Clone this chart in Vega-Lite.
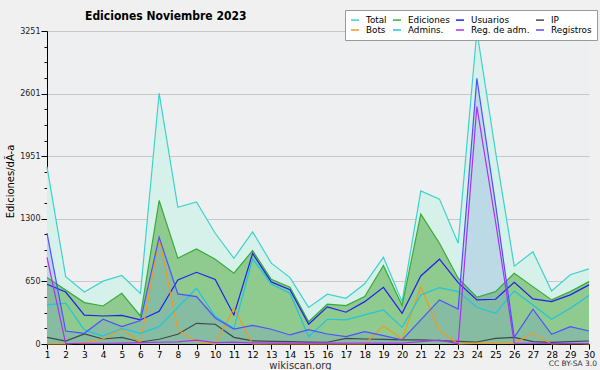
{
"$schema": "https://vega.github.io/schema/vega-lite/v6.json",
"width": 542, "height": 313,
"autosize": {"type": "none"},
"padding": {"left": 47, "top": 31, "right": 11, "bottom": 26},
"background": "#f0f0f0",
"config": {"view": {"fill": "#edeff1", "stroke": null}, "font": "DejaVu Sans"},
"title": {"text": "Ediciones  Noviembre 2023", "anchor": "start", "frame": "group", "dx": 38, "offset": 10, "dy": 32, "baseline": "alphabetic", "fontSize": 12, "fontWeight": "bold", "font": "DejaVu Sans Condensed, DejaVu Sans", "color": "#000"},
"data": {"values": [
{"d":1,"s":"Total","v":1840},{"d":1,"s":"Ediciones","v":690},{"d":1,"s":"Usuarios","v":621},{"d":1,"s":"IP","v":69},{"d":1,"s":"Bots","v":0},{"d":1,"s":"Admins.","v":406},{"d":1,"s":"Reg. de adm.","v":900},{"d":1,"s":"Registros","v":1151},
{"d":2,"s":"Total","v":700},{"d":2,"s":"Ediciones","v":562},{"d":2,"s":"Usuarios","v":540},{"d":2,"s":"IP","v":30},{"d":2,"s":"Bots","v":0},{"d":2,"s":"Admins.","v":423},{"d":2,"s":"Reg. de adm.","v":5},{"d":2,"s":"Registros","v":135},
{"d":3,"s":"Total","v":540},{"d":3,"s":"Ediciones","v":430},{"d":3,"s":"Usuarios","v":300},{"d":3,"s":"IP","v":104},{"d":3,"s":"Bots","v":14},{"d":3,"s":"Admins.","v":146},{"d":3,"s":"Reg. de adm.","v":8},{"d":3,"s":"Registros","v":111},
{"d":4,"s":"Total","v":653},{"d":4,"s":"Ediciones","v":395},{"d":4,"s":"Usuarios","v":291},{"d":4,"s":"IP","v":52},{"d":4,"s":"Bots","v":52},{"d":4,"s":"Admins.","v":83},{"d":4,"s":"Reg. de adm.","v":8},{"d":4,"s":"Registros","v":257},
{"d":5,"s":"Total","v":712},{"d":5,"s":"Ediciones","v":527},{"d":5,"s":"Usuarios","v":298},{"d":5,"s":"IP","v":69},{"d":5,"s":"Bots","v":156},{"d":5,"s":"Admins.","v":163},{"d":5,"s":"Reg. de adm.","v":10},{"d":5,"s":"Registros","v":180},
{"d":6,"s":"Total","v":525},{"d":6,"s":"Ediciones","v":291},{"d":6,"s":"Usuarios","v":250},{"d":6,"s":"IP","v":21},{"d":6,"s":"Bots","v":14},{"d":6,"s":"Admins.","v":111},{"d":6,"s":"Reg. de adm.","v":15},{"d":6,"s":"Registros","v":243},
{"d":7,"s":"Total","v":2605},{"d":7,"s":"Ediciones","v":1490},{"d":7,"s":"Usuarios","v":340},{"d":7,"s":"IP","v":49},{"d":7,"s":"Bots","v":1100},{"d":7,"s":"Admins.","v":180},{"d":7,"s":"Reg. de adm.","v":18},{"d":7,"s":"Registros","v":1110},
{"d":8,"s":"Total","v":1420},{"d":8,"s":"Ediciones","v":891},{"d":8,"s":"Usuarios","v":666},{"d":8,"s":"IP","v":101},{"d":8,"s":"Bots","v":146},{"d":8,"s":"Admins.","v":382},{"d":8,"s":"Reg. de adm.","v":22},{"d":8,"s":"Registros","v":520},
{"d":9,"s":"Total","v":1475},{"d":9,"s":"Ediciones","v":988},{"d":9,"s":"Usuarios","v":745},{"d":9,"s":"IP","v":215},{"d":9,"s":"Bots","v":24},{"d":9,"s":"Admins.","v":579},{"d":9,"s":"Reg. de adm.","v":40},{"d":9,"s":"Registros","v":492},
{"d":10,"s":"Total","v":1150},{"d":10,"s":"Ediciones","v":880},{"d":10,"s":"Usuarios","v":670},{"d":10,"s":"IP","v":205},{"d":10,"s":"Bots","v":0},{"d":10,"s":"Admins.","v":288},{"d":10,"s":"Reg. de adm.","v":15},{"d":10,"s":"Registros","v":270},
{"d":11,"s":"Total","v":890},{"d":11,"s":"Ediciones","v":735},{"d":11,"s":"Usuarios","v":302},{"d":11,"s":"IP","v":69},{"d":11,"s":"Bots","v":371},{"d":11,"s":"Admins.","v":160},{"d":11,"s":"Reg. de adm.","v":20},{"d":11,"s":"Registros","v":155},
{"d":12,"s":"Total","v":1165},{"d":12,"s":"Ediciones","v":970},{"d":12,"s":"Usuarios","v":940},{"d":12,"s":"IP","v":33},{"d":12,"s":"Bots","v":0},{"d":12,"s":"Admins.","v":884},{"d":12,"s":"Reg. de adm.","v":12},{"d":12,"s":"Registros","v":194},
{"d":13,"s":"Total","v":840},{"d":13,"s":"Ediciones","v":673},{"d":13,"s":"Usuarios","v":645},{"d":13,"s":"IP","v":28},{"d":13,"s":"Bots","v":0},{"d":13,"s":"Admins.","v":624},{"d":13,"s":"Reg. de adm.","v":10},{"d":13,"s":"Registros","v":153},
{"d":14,"s":"Total","v":690},{"d":14,"s":"Ediciones","v":590},{"d":14,"s":"Usuarios","v":565},{"d":14,"s":"IP","v":24},{"d":14,"s":"Bots","v":0},{"d":14,"s":"Admins.","v":527},{"d":14,"s":"Reg. de adm.","v":10},{"d":14,"s":"Registros","v":94},
{"d":15,"s":"Total","v":380},{"d":15,"s":"Ediciones","v":232},{"d":15,"s":"Usuarios","v":205},{"d":15,"s":"IP","v":20},{"d":15,"s":"Bots","v":0},{"d":15,"s":"Admins.","v":76},{"d":15,"s":"Reg. de adm.","v":10},{"d":15,"s":"Registros","v":150},
{"d":16,"s":"Total","v":517},{"d":16,"s":"Ediciones","v":413},{"d":16,"s":"Usuarios","v":385},{"d":16,"s":"IP","v":18},{"d":16,"s":"Bots","v":0},{"d":16,"s":"Admins.","v":257},{"d":16,"s":"Reg. de adm.","v":10},{"d":16,"s":"Registros","v":104},
{"d":17,"s":"Total","v":475},{"d":17,"s":"Ediciones","v":399},{"d":17,"s":"Usuarios","v":330},{"d":17,"s":"IP","v":59},{"d":17,"s":"Bots","v":0},{"d":17,"s":"Admins.","v":250},{"d":17,"s":"Reg. de adm.","v":10},{"d":17,"s":"Registros","v":76},
{"d":18,"s":"Total","v":625},{"d":18,"s":"Ediciones","v":492},{"d":18,"s":"Usuarios","v":440},{"d":18,"s":"IP","v":52},{"d":18,"s":"Bots","v":0},{"d":18,"s":"Admins.","v":302},{"d":18,"s":"Reg. de adm.","v":10},{"d":18,"s":"Registros","v":128},
{"d":19,"s":"Total","v":900},{"d":19,"s":"Ediciones","v":815},{"d":19,"s":"Usuarios","v":589},{"d":19,"s":"IP","v":49},{"d":19,"s":"Bots","v":190},{"d":19,"s":"Admins.","v":354},{"d":19,"s":"Reg. de adm.","v":10},{"d":19,"s":"Registros","v":87},
{"d":20,"s":"Total","v":440},{"d":20,"s":"Ediciones","v":399},{"d":20,"s":"Usuarios","v":319},{"d":20,"s":"IP","v":42},{"d":20,"s":"Bots","v":50},{"d":20,"s":"Admins.","v":173},{"d":20,"s":"Reg. de adm.","v":10},{"d":20,"s":"Registros","v":42},
{"d":21,"s":"Total","v":1590},{"d":21,"s":"Ediciones","v":1349},{"d":21,"s":"Usuarios","v":707},{"d":21,"s":"IP","v":42},{"d":21,"s":"Bots","v":595},{"d":21,"s":"Admins.","v":510},{"d":21,"s":"Reg. de adm.","v":24},{"d":21,"s":"Registros","v":250},
{"d":22,"s":"Total","v":1505},{"d":22,"s":"Ediciones","v":1047},{"d":22,"s":"Usuarios","v":881},{"d":22,"s":"IP","v":35},{"d":22,"s":"Bots","v":137},{"d":22,"s":"Admins.","v":586},{"d":22,"s":"Reg. de adm.","v":40},{"d":22,"s":"Registros","v":458},
{"d":23,"s":"Total","v":1047},{"d":23,"s":"Ediciones","v":683},{"d":23,"s":"Usuarios","v":638},{"d":23,"s":"IP","v":28},{"d":23,"s":"Bots","v":0},{"d":23,"s":"Admins.","v":544},{"d":23,"s":"Reg. de adm.","v":3},{"d":23,"s":"Registros","v":364},
{"d":24,"s":"Total","v":3251},{"d":24,"s":"Ediciones","v":486},{"d":24,"s":"Usuarios","v":458},{"d":24,"s":"IP","v":21},{"d":24,"s":"Bots","v":7},{"d":24,"s":"Admins.","v":382},{"d":24,"s":"Reg. de adm.","v":2466},{"d":24,"s":"Registros","v":2760},
{"d":25,"s":"Total","v":1995},{"d":25,"s":"Ediciones","v":544},{"d":25,"s":"Usuarios","v":465},{"d":25,"s":"IP","v":59},{"d":25,"s":"Bots","v":10},{"d":25,"s":"Admins.","v":319},{"d":25,"s":"Reg. de adm.","v":1270},{"d":25,"s":"Registros","v":1450},
{"d":26,"s":"Total","v":808},{"d":26,"s":"Ediciones","v":735},{"d":26,"s":"Usuarios","v":641},{"d":26,"s":"IP","v":69},{"d":26,"s":"Bots","v":10},{"d":26,"s":"Admins.","v":551},{"d":26,"s":"Reg. de adm.","v":10},{"d":26,"s":"Registros","v":69},
{"d":27,"s":"Total","v":958},{"d":27,"s":"Ediciones","v":596},{"d":27,"s":"Usuarios","v":468},{"d":27,"s":"IP","v":24},{"d":27,"s":"Bots","v":111},{"d":27,"s":"Admins.","v":406},{"d":27,"s":"Reg. de adm.","v":8},{"d":27,"s":"Registros","v":361},
{"d":28,"s":"Total","v":550},{"d":28,"s":"Ediciones","v":458},{"d":28,"s":"Usuarios","v":440},{"d":28,"s":"IP","v":17},{"d":28,"s":"Bots","v":0},{"d":28,"s":"Admins.","v":257},{"d":28,"s":"Reg. de adm.","v":5},{"d":28,"s":"Registros","v":101},
{"d":29,"s":"Total","v":720},{"d":29,"s":"Ediciones","v":544},{"d":29,"s":"Usuarios","v":510},{"d":29,"s":"IP","v":24},{"d":29,"s":"Bots","v":5},{"d":29,"s":"Admins.","v":371},{"d":29,"s":"Reg. de adm.","v":5},{"d":29,"s":"Registros","v":180},
{"d":30,"s":"Total","v":780},{"d":30,"s":"Ediciones","v":648},{"d":30,"s":"Usuarios","v":614},{"d":30,"s":"IP","v":31},{"d":30,"s":"Bots","v":0},{"d":30,"s":"Admins.","v":503},{"d":30,"s":"Reg. de adm.","v":5},{"d":30,"s":"Registros","v":135}
]},
"encoding": {
  "x": {"field": "d", "type": "quantitative", "scale": {"domain": [1, 30], "nice": false, "zero": false},
    "axis": {"values": [1,2,3,4,5,6,7,8,9,10,11,12,13,14,15,16,17,18,19,20,21,22,23,24,25,26,27,28,29,30], "format": "d", "title": "wikiscan.org", "grid": false, "tickSize": 5, "tickColor": "#000", "domainColor": "#000", "labelFontSize": 9, "labelPadding": 1, "labelColor": "#000", "labelFlush": false, "labelOverlap": false, "titleFontSize": 10, "titleFontWeight": "normal", "titleX": 253, "titleY": 24, "titleBaseline": "alphabetic", "titleColor": "#333"}},
  "y": {"field": "v", "type": "quantitative", "scale": {"domain": [0, 3251], "nice": false},
    "axis": {"values": [0,162.55,325.1,487.65,650.2,812.75,975.3,1137.85,1300.4,1462.95,1625.5,1788.05,1950.6,2113.15,2275.7,2438.25,2600.8,2763.35,2925.9,3088.45,3251],
      "labelExpr": "abs(datum.value/650.2 - round(datum.value/650.2)) < 0.01 ? '' + round(datum.value) : ''",
      "title": "Ediciones/dÃ-a", "grid": true, "gridColor": "#c8c8c8",
      "gridOpacity": {"condition": {"test": "abs(datum.value/650.2 - round(datum.value/650.2)) < 0.01 && datum.value > 0", "value": 1}, "value": 0},
      "tickSize": {"condition": {"test": "abs(datum.value/650.2 - round(datum.value/650.2)) < 0.01", "value": 6}, "value": 3},
      "tickColor": "#000", "domainColor": "#000", "labelFontSize": 8, "labelPadding": 1, "labelColor": "#222", "labelOverlap": false, "labelBound": false,
      "titleFontSize": 10, "titleFontWeight": "normal", "titleX": -37, "titleY": 150, "titleAngle": -90, "titleBaseline": "middle", "titleAlign": "center", "titleColor": "#000"}}
},
"layer": [
  {"transform": [{"filter": "datum.s == 'Total'"}], "mark": {"type": "area", "color": "#d6f1ea", "opacity": 1}},
  {"transform": [{"filter": "datum.s == 'Ediciones'"}], "mark": {"type": "area", "color": "#8fca8f", "opacity": 1}},
  {"transform": [{"filter": "datum.s == 'Registros'"}], "mark": {"type": "area", "color": "#6c96da", "opacity": 0.25}},
  {"mark": {"type": "line", "strokeWidth": 1.2},
   "encoding": {"color": {"field": "s", "type": "nominal",
     "scale": {"domain": ["Total","Ediciones","Usuarios","IP","Bots","Admins.","Reg. de adm.","Registros"],
               "range": ["#3dd3cc","#3aaa3a","#2020f0","#404848","#f09a20","#20c4e0","#b030f0","#5050ff"]},
     "legend": {"title": null, "orient": "none", "legendX": 298, "legendY": -21, "direction": "horizontal", "columns": 4,
       "fillColor": "#ffffff", "strokeColor": "#9a9a9a", "padding": 5, "symbolType": "stroke", "symbolSize": 64, "symbolStrokeWidth": 1.5,
       "labelFontSize": 8.8, "labelFont": "DejaVu Sans", "labelColor": "#000", "columnPadding": 3, "rowPadding": 0, "labelOffset": 6, "labelLimit": 200}}}},
  {"transform": [{"filter": "datum.d == 30 && datum.s == 'Bots'"}],
   "mark": {"type": "text", "text": "CC BY-SA 3.0", "align": "right", "baseline": "alphabetic", "dx": 8, "dy": 22, "fontSize": 7.5, "color": "#333"}}
]
}
